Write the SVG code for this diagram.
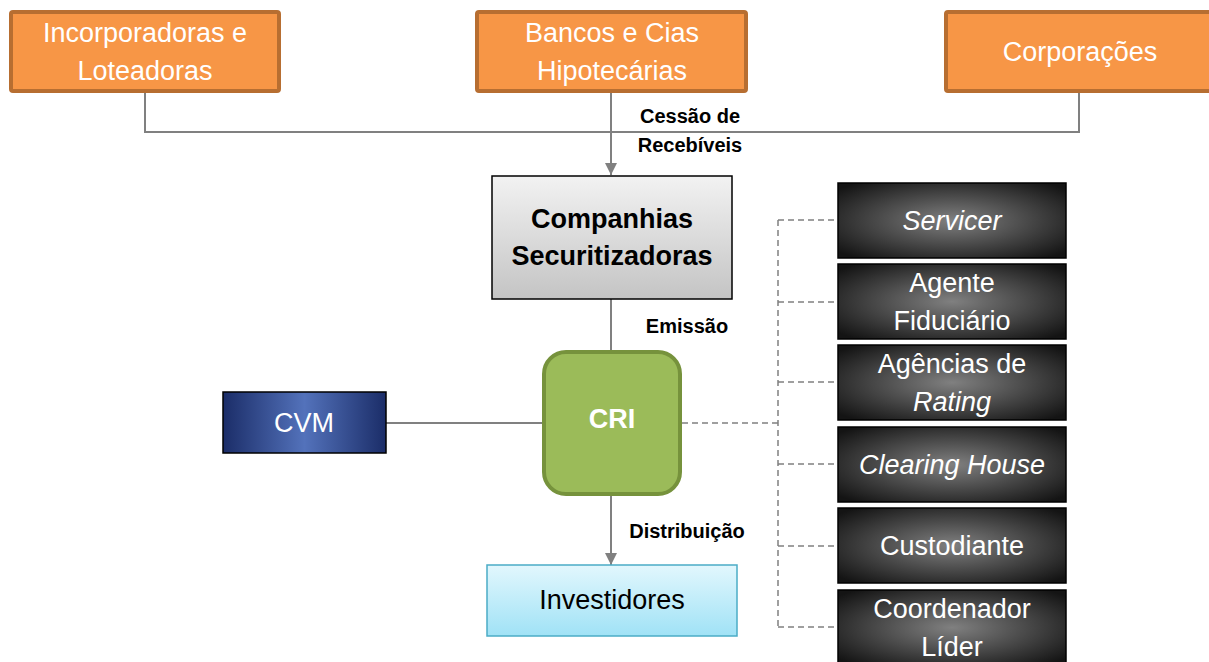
<svg xmlns="http://www.w3.org/2000/svg" width="1209" height="662" viewBox="0 0 1209 662">
  <defs>
    <linearGradient id="greyFill" x1="0" y1="0" x2="0" y2="1">
      <stop offset="0" stop-color="#f2f2f2"/>
      <stop offset="1" stop-color="#c4c4c4"/>
    </linearGradient>
    <linearGradient id="cyanFill" x1="0" y1="0" x2="0" y2="1">
      <stop offset="0" stop-color="#e2f7fd"/>
      <stop offset="1" stop-color="#a0e2f6"/>
    </linearGradient>
    <linearGradient id="navyFill" x1="0" y1="0" x2="1" y2="0">
      <stop offset="0" stop-color="#1b2d68"/>
      <stop offset="0.5" stop-color="#5372bb"/>
      <stop offset="1" stop-color="#1b2d68"/>
    </linearGradient>
    <radialGradient id="darkFill" cx="0.5" cy="0.5" r="0.65">
      <stop offset="0" stop-color="#808080"/>
      <stop offset="1" stop-color="#141414"/>
    </radialGradient>
    <marker id="arrow" viewBox="0 0 12 12" refX="12" refY="6" markerWidth="12" markerHeight="12" markerUnits="userSpaceOnUse" orient="auto">
      <path d="M0,0 L12,6 L0,12 z" fill="#808080"/>
    </marker>
    <style>
      .orange { fill: #f79646; stroke: #b76e31; stroke-width: 4; }
      .wtext { fill: #ffffff; font-family: "Liberation Sans", Arial, sans-serif; font-size: 27px; text-anchor: middle; }
      .btext { fill: #000000; font-family: "Liberation Sans", Arial, sans-serif; font-size: 27px; text-anchor: middle; }
      .label { fill: #000000; font-family: "Liberation Sans", Arial, sans-serif; font-size: 20px; font-weight: bold; text-anchor: middle; }
      .dark { fill: url(#darkFill); stroke: #000000; stroke-width: 1.5; }
      .line { fill: none; stroke: #808080; stroke-width: 2; }
      .dash { fill: none; stroke: #808080; stroke-width: 1.5; stroke-dasharray: 6 4; }
      .it { font-style: italic; }
    </style>
  </defs>

  <!-- connectors -->
  <g id="connectors">
    <polyline class="line" points="145,92 145,132 1079,132 1079,92"/>
    <line class="line" x1="611" y1="92" x2="611" y2="175" marker-end="url(#arrow)"/>
    <line class="line" x1="611" y1="299" x2="611" y2="350"/>
    <line class="line" x1="611" y1="496" x2="611" y2="565" marker-end="url(#arrow)"/>
    <line class="line" x1="386" y1="423" x2="542" y2="423"/>
    <polyline class="dash" points="682,423 778,423"/>
    <line class="dash" x1="778" y1="220" x2="778" y2="627"/>
    <line class="dash" x1="778" y1="220" x2="838" y2="220"/>
    <line class="dash" x1="778" y1="302" x2="838" y2="302"/>
    <line class="dash" x1="778" y1="382" x2="838" y2="382"/>
    <line class="dash" x1="778" y1="464" x2="838" y2="464"/>
    <line class="dash" x1="778" y1="546" x2="838" y2="546"/>
    <line class="dash" x1="778" y1="627" x2="838" y2="627"/>
    <text class="label" x="690" y="123">Cessão de</text>
    <text class="label" x="690" y="152">Recebíveis</text>
    <text class="label" x="687" y="333">Emissão</text>
    <text class="label" x="687" y="538">Distribuição</text>
  </g>

  <g id="incorporadoras">
    <rect class="orange" x="11" y="12" width="268" height="79" rx="2"/>
    <text class="wtext" x="145" y="42">Incorporadoras e</text>
    <text class="wtext" x="145" y="80">Loteadoras</text>
  </g>

  <g id="bancos">
    <rect class="orange" x="477" y="12" width="269" height="79" rx="2"/>
    <text class="wtext" x="612" y="42">Bancos e Cias</text>
    <text class="wtext" x="612" y="80">Hipotecárias</text>
  </g>

  <g id="corporacoes">
    <rect class="orange" x="946" y="12" width="269" height="79" rx="2"/>
    <text class="wtext" x="1080" y="61">Corporações</text>
  </g>

  <g id="securitizadoras">
    <rect x="492" y="176" width="240" height="123" fill="url(#greyFill)" stroke="#000000" stroke-width="1.5"/>
    <text class="btext" x="612" y="228" font-size="25" font-weight="bold">Companhias</text>
    <text class="btext" x="612" y="265" font-size="25" font-weight="bold">Securitizadoras</text>
  </g>

  <g id="cri">
    <rect x="544" y="352" width="136" height="142" rx="22" fill="#9bbb59" stroke="#76923c" stroke-width="4"/>
    <text class="wtext" x="612" y="428" font-weight="bold" font-size="26">CRI</text>
  </g>

  <g id="cvm">
    <rect x="223" y="392" width="163" height="61" fill="url(#navyFill)" stroke="#000000" stroke-width="1.5"/>
    <text class="wtext" x="304" y="432">CVM</text>
  </g>

  <g id="investidores">
    <rect x="487" y="565" width="250" height="71" fill="url(#cyanFill)" stroke="#4bacc6" stroke-width="1.5"/>
    <text class="btext" x="612" y="609">Investidores</text>
  </g>

  <g id="servicer">
    <rect class="dark" x="838" y="183" width="228" height="75"/>
    <text class="wtext it" x="952" y="230">Servicer</text>
  </g>

  <g id="agente">
    <rect class="dark" x="838" y="264" width="228" height="75"/>
    <text class="wtext" x="952" y="292">Agente</text>
    <text class="wtext" x="952" y="330">Fiduciário</text>
  </g>

  <g id="agencias">
    <rect class="dark" x="838" y="345" width="228" height="75"/>
    <text class="wtext" x="952" y="373">Agências de</text>
    <text class="wtext it" x="952" y="411">Rating</text>
  </g>

  <g id="clearing">
    <rect class="dark" x="838" y="427" width="228" height="75"/>
    <text class="wtext it" x="952" y="474">Clearing House</text>
  </g>

  <g id="custodiante">
    <rect class="dark" x="838" y="508" width="228" height="75"/>
    <text class="wtext" x="952" y="555">Custodiante</text>
  </g>

  <g id="coordenador">
    <rect class="dark" x="838" y="590" width="228" height="75"/>
    <text class="wtext" x="952" y="618">Coordenador</text>
    <text class="wtext" x="952" y="656">Líder</text>
  </g>
</svg>
